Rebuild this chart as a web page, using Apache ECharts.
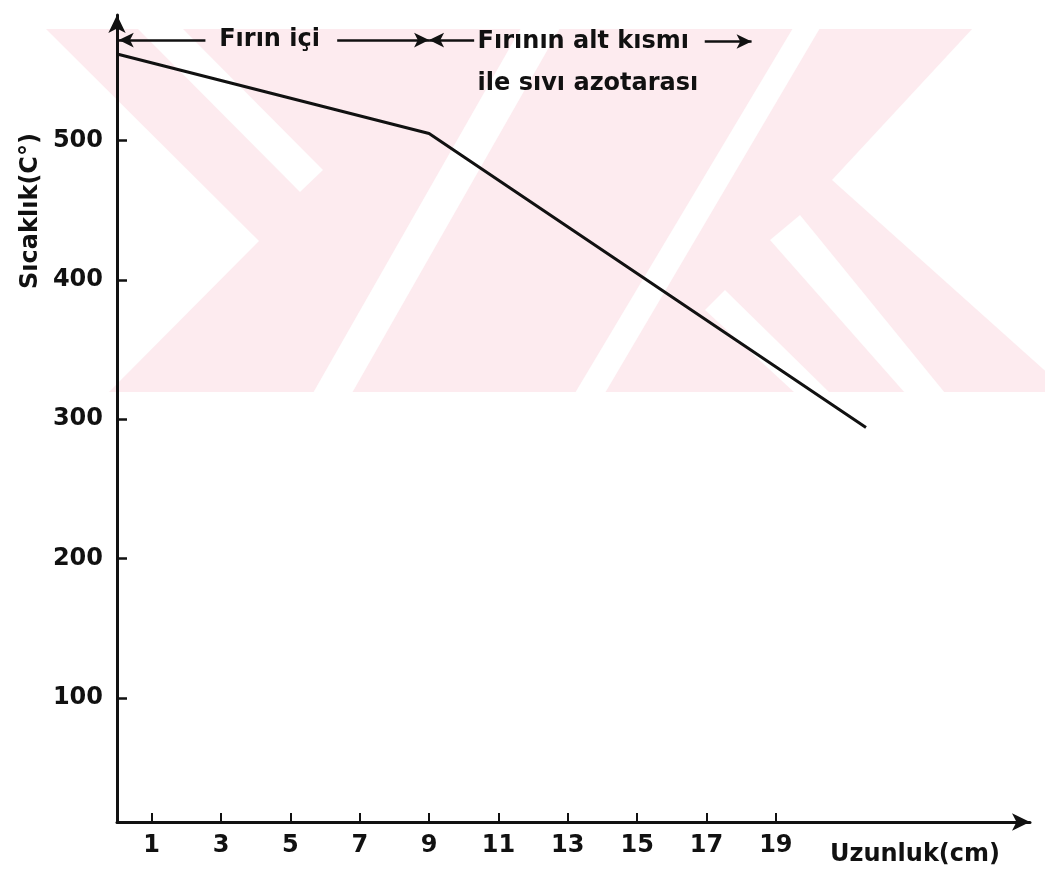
<!DOCTYPE html>
<html>
<head>
<meta charset="utf-8">
<script src="https://cdn.jsdelivr.net/npm/echarts@6/dist/echarts.min.js"></script>
<style>
  html, body { margin: 0; padding: 0; background: #fff; }
  #chart { width: 1052px; height: 875px; }
</style>
</head>
<body>
<div id="chart"></div>
<script>
// data
const lengths = [0, 9, 21.6];        // Uzunluk (cm)
const temps = [562, 505, 294];       // Sıcaklık (°C)
const xTicks = [1, 3, 5, 7, 9, 11, 13, 15, 17, 19];
const yTicks = [100, 200, 300, 400, 500];
const xName = 'Uzunluk(cm)';
const yName = 'Sıcaklık(C°)';
const zoneLabels = ['Fırın içi', 'Fırının alt kısmı', 'ile sıvı azotarası'];

const font = '"DejaVu Sans", sans-serif';
const ink = '#111';
const pink = '#fdebef';

var chart = echarts.init(document.getElementById('chart'));

// faint watermark of the scanned page
function wm(points, fill) {
  return { type: 'polygon', z: -9, silent: true, shape: { points: points }, style: { fill: fill } };
}
const watermark = [
  { type: 'rect', z: -10, silent: true, shape: { x: 45, y: 29, width: 1000, height: 363 }, style: { fill: pink } },
  wm([[0, 28], [45, 28], [259, 241], [108, 393], [0, 393]], '#fff'),
  wm([[137, 28], [182, 28], [323, 170], [300, 192]], '#fff'),
  wm([[313, 393], [352, 393], [560, 28], [521, 28]], '#fff'),
  wm([[575, 393], [605, 393], [820, 28], [793, 28]], '#fff'),
  wm([[973, 28], [1052, 28], [1052, 377], [832, 180]], '#fff'),
  wm([[770, 240], [800, 215], [945, 393], [905, 393]], '#fff'),
  wm([[705, 310], [725, 290], [830, 393], [795, 393]], '#fff'),
  wm([[1045, 28], [1052, 28], [1052, 393], [1045, 393]], '#fff')
];

const arrowLine = { color: ink, width: 2.5, type: 'solid' };
const labelFont = { color: ink, fontSize: 24, fontWeight: 'bold', fontFamily: font };

const options = {
  animation: false,
  backgroundColor: '#fff',
  grid: { left: 117, right: 22, top: 15, bottom: 53 },
  xAxis: {
    type: 'value',
    min: 0,
    max: 26.33,
    splitLine: { show: false },
    axisLine: { onZero: false, lineStyle: { color: ink, width: 3 }, symbol: ['none', 'arrow'], symbolSize: [13, 18] },
    axisTick: { inside: true, length: 9, customValues: xTicks, lineStyle: { color: ink, width: 2 } },
    axisLabel: Object.assign({ customValues: xTicks, margin: 12 }, labelFont)
  },
  yAxis: {
    type: 'value',
    min: 11,
    max: 590,
    splitLine: { show: false },
    axisLine: { onZero: false, lineStyle: { color: ink, width: 3 }, symbol: ['none', 'arrow'], symbolSize: [13, 18] },
    axisTick: { inside: true, length: 10, customValues: yTicks, lineStyle: { color: ink, width: 2.5 } },
    axisLabel: Object.assign({ customValues: yTicks, margin: 14 }, labelFont)
  },
  graphic: watermark.concat([
    { type: 'text', x: 31, y: 211, rotation: Math.PI / 2, style: { text: yName, fill: ink, font: 'bold 24px ' + font, textAlign: 'center', textVerticalAlign: 'middle' } },
    { type: 'text', x: 915, y: 855, style: { text: xName, fill: ink, font: 'bold 24px ' + font, textAlign: 'center', textVerticalAlign: 'middle' } }
  ]),
  series: [{
    type: 'line',
    data: lengths.map(function (x, i) { return [x, temps[i]]; }),
    showSymbol: false,
    lineStyle: { color: ink, width: 3 },
    markLine: {
      silent: true,
      symbolSize: [11, 15],
      lineStyle: arrowLine,
      label: { show: false },
      data: [
        [{ coord: [0.05, 572], symbol: 'arrow' }, { coord: [2.55, 572], symbol: 'none' }],
        [{ coord: [6.35, 572], symbol: 'none' }, { coord: [9.0, 572], symbol: 'arrow' }],
        [{ coord: [9.0, 572], symbol: 'arrow' }, { coord: [10.3, 572], symbol: 'none' }],
        [{ coord: [16.95, 571], symbol: 'none' }, { coord: [18.3, 571], symbol: 'arrow' }]
      ]
    },
    markPoint: {
      silent: true,
      symbol: 'rect',
      symbolSize: 1,
      itemStyle: { color: 'rgba(0,0,0,0)' },
      label: Object.assign({ show: true, position: 'inside', formatter: '{b}' }, labelFont),
      data: [
        { name: zoneLabels[0], coord: [4.4, 572] },
        { name: zoneLabels[1], coord: [10.4, 571], label: { align: 'left' } },
        { name: zoneLabels[2], coord: [10.4, 541], label: { align: 'left' } }
      ]
    }
  }]
};

chart.setOption(options, true);
</script>
</body>
</html>
